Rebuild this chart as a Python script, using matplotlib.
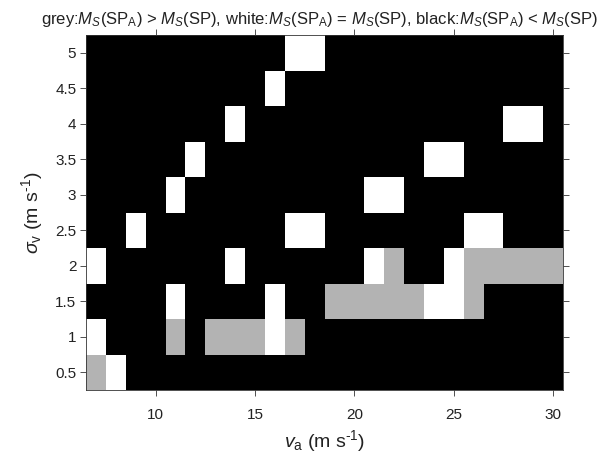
import matplotlib
matplotlib.use('Agg')
import matplotlib.pyplot as plt
from matplotlib.colors import ListedColormap
import numpy as np

# wind speed (x) and its standard deviation (y) grid
va = [7, 8, 9, 10, 11, 12, 13, 14, 15, 16, 17, 18, 19, 20, 21, 22, 23, 24, 25, 26, 27, 28, 29, 30]
sigma_v = [0.5, 1.0, 1.5, 2.0, 2.5, 3.0, 3.5, 4.0, 4.5, 5.0]

# 0 = black (SP_A < SP), 1 = white (equal), 2 = grey (SP_A > SP)
white_cells = {
    5.0: [17, 18],
    4.5: [16],
    4.0: [14, 28, 29],
    3.5: [12, 24, 25],
    3.0: [11, 21, 22],
    2.5: [9, 17, 18, 26, 27],
    2.0: [7, 14, 21, 25],
    1.5: [11, 16, 24, 25],
    1.0: [7, 16],
    0.5: [8],
}
grey_cells = {
    2.0: [22, 26, 27, 28, 29, 30],
    1.5: [19, 20, 21, 22, 23, 26],
    1.0: [11, 13, 14, 15, 17],
    0.5: [7],
}

plt.rcParams['font.family'] = ['Liberation Sans', 'DejaVu Sans']
plt.rcParams['mathtext.fontset'] = 'custom'
plt.rcParams['mathtext.rm'] = 'Liberation Sans'
plt.rcParams['mathtext.it'] = 'Liberation Sans:italic'

Z = np.zeros((len(sigma_v), len(va)))
for y, xs in white_cells.items():
    for x in xs:
        Z[sigma_v.index(y), va.index(x)] = 1
for y, xs in grey_cells.items():
    for x in xs:
        Z[sigma_v.index(y), va.index(x)] = 2

xe = np.append(np.array(va) - 0.5, va[-1] + 0.5)
ye = np.append(np.array(sigma_v) - 0.25, sigma_v[-1] + 0.25)

fig = plt.figure(figsize=(6.03, 4.61), dpi=100)
ax = fig.add_axes([86 / 603, 1 - 390 / 461, 477 / 603, 355 / 461])
cmap = ListedColormap(['black', 'white', '#b3b3b3'])
ax.pcolormesh(xe, ye, Z, cmap=cmap, vmin=-0.5, vmax=2.5)

ax.set_xlim(6.5, 30.5)
ax.set_ylim(0.25, 5.25)
ax.set_xticks([10, 15, 20, 25, 30])
ax.set_yticks(sigma_v)
ax.set_yticklabels(['0.5', '1', '1.5', '2', '2.5', '3', '3.5', '4', '4.5', '5'])
ax.tick_params(direction='out', top=True, right=True, length=4, labelsize=11,
               width=0.6, colors='#333333', labelcolor='#222222')
ax.tick_params(axis='x', pad=9)
ax.tick_params(axis='y', pad=3)
for s in ax.spines.values():
    s.set_linewidth(0.6)
    s.set_color('#333333')

ax.set_xlabel(r'$\mathit{v}_{\mathrm{a}}$ (m s$^{\text{-1}}$)', fontsize=14, labelpad=4, color='#222222')
ax.set_ylabel(r'$\mathit{\sigma}_{\mathrm{v}}$ (m s$^{\text{-1}}$)', fontsize=14, labelpad=7, color='#222222')
ax.set_title(r'grey:$M_S$(SP$_{\mathrm{A}}$) > $M_S$(SP), white:$M_S$(SP$_{\mathrm{A}}$) = $M_S$(SP), '
             r'black:$M_S$(SP$_{\mathrm{A}}$) < $M_S$(SP)', fontsize=12, pad=8, color='#222222',
             x=0.4895)

fig.savefig('out.png', dpi=100)
